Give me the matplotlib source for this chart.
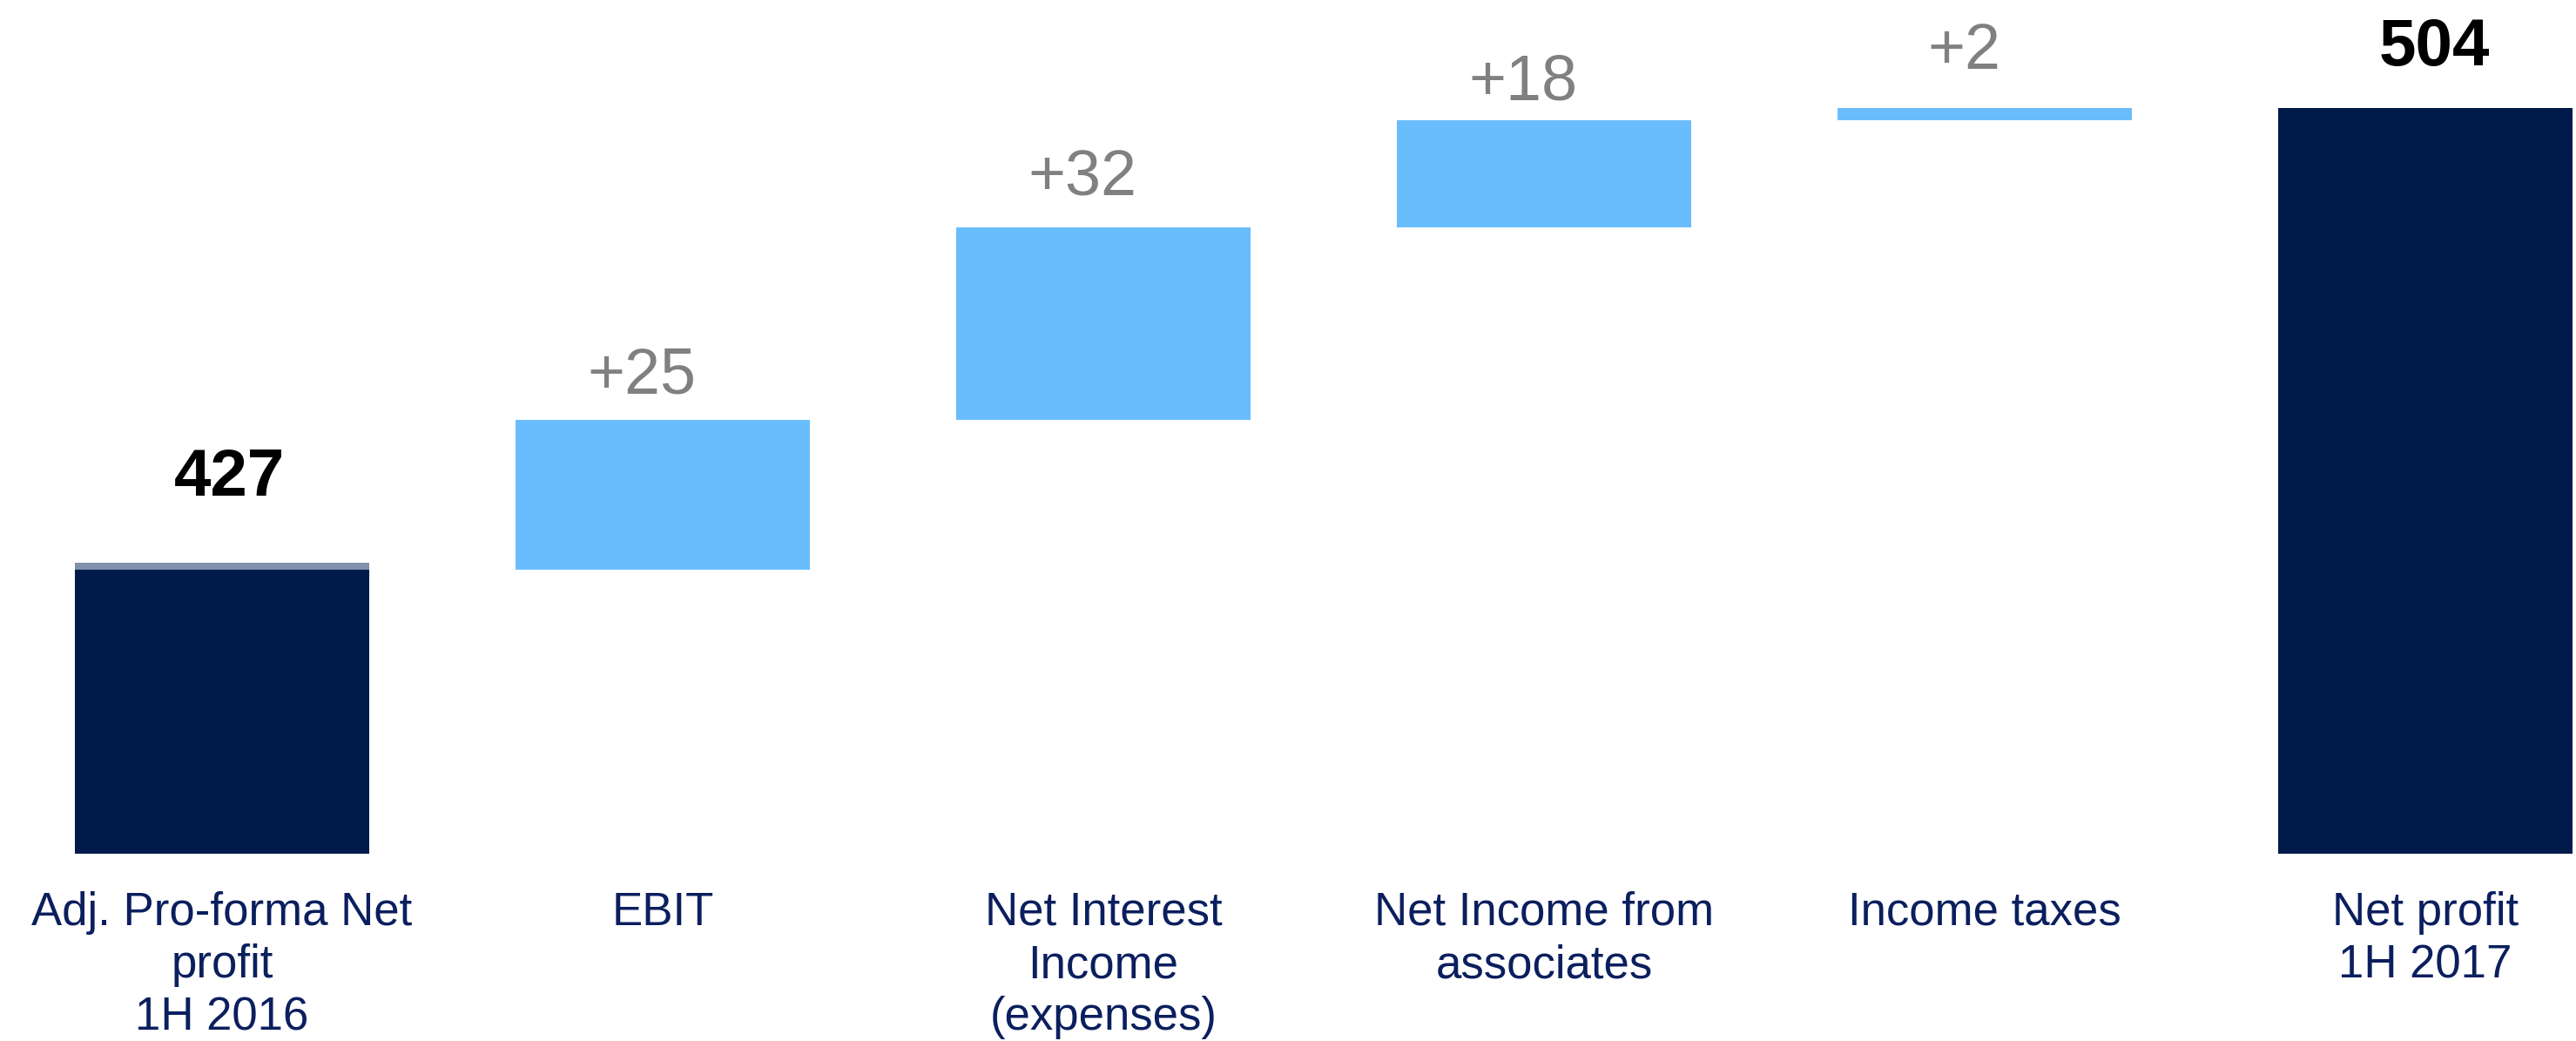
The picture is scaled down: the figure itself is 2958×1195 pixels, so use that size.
import matplotlib.pyplot as plt
from matplotlib.transforms import offset_copy

plt.rcParams['font.family'] = ['Liberation Sans', 'DejaVu Sans']

# Net profit bridge, 1H 2016 -> 1H 2017
categories = ['Adj. Pro-forma Net\nprofit\n1H 2016', 'EBIT', 'Net Interest\nIncome\n(expenses)',
              'Net Income from\nassociates', 'Income taxes', 'Net profit\n1H 2017']
start_value = 427
deltas = [25, 32, 18, 2]
end_value = start_value + sum(deltas)

NAVY = '#001a4a'
LIGHT_BLUE = '#69bdfd'
CAP_GREY = '#8190ab'
LABEL_BLUE = '#0b1f5e'
DELTA_GREY = '#808080'

# gap (px) between bar top and its value label
label_pad = [85, 30, 37, 23, 45, 49]

fig = plt.figure(figsize=(29.58, 11.95), dpi=100)
ax = fig.add_axes([0, 0.18, 1, 0.82])

width = 0.668
xs = list(range(len(categories)))
base = 379.6

# start total
ax.bar(xs[0], start_value - base, bottom=base, width=width, color=NAVY)
ax.bar(xs[0], 1.15, bottom=start_value, width=width, color=CAP_GREY)

# floating deltas
running = start_value
tops = [start_value]
for i, d in enumerate(deltas, start=1):
    ax.bar(xs[i], d, bottom=running, width=width, color=LIGHT_BLUE)
    running += d
    tops.append(running)

# end total
ax.bar(xs[-1], end_value - base, bottom=base, width=width, color=NAVY)
tops.append(end_value)

texts = [str(start_value)] + [f'+{d}' for d in deltas] + [str(end_value)]
for i, (x, top, t) in enumerate(zip(xs, tops, texts)):
    is_total = i in (0, len(xs) - 1)
    dx = 8 if i == 0 else (10 if i == len(xs) - 1 else -24)
    trans = offset_copy(ax.transData, fig=fig, x=dx, y=label_pad[i], units='dots')
    ax.text(x, top, t, transform=trans, ha='center', va='baseline',
            fontsize=55 if is_total else 53,
            fontweight='bold' if is_total else 'normal',
            color='black' if is_total else DELTA_GREY)

ax.set_xlim(-0.504, 5.342)
ax.set_ylim(base, 522)
ax.set_xticks(xs)
ax.set_xticklabels(categories, fontsize=38, color=LABEL_BLUE, linespacing=1.26)
ax.tick_params(axis='x', length=0, pad=31)
ax.set_yticks([])
for s in ax.spines.values():
    s.set_visible(False)

fig.savefig('out.png', dpi=100)
